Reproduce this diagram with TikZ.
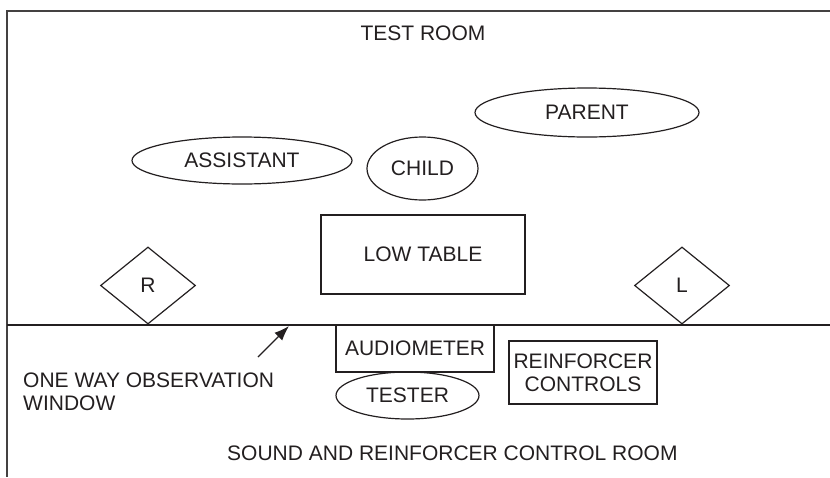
\documentclass[tikz,border=0pt]{standalone}
\usepackage{fontspec}
\setmainfont{Liberation Sans}
\usetikzlibrary{shapes.geometric,arrows.meta}
\definecolor{ink}{HTML}{231F20}
\begin{document}
\begin{tikzpicture}[x=1pt,y=-1pt,
  every node/.style={text=ink,font=\fontsize{21}{23}\selectfont},
  wall/.style={draw=ink!85,line width=2pt},
  divider/.style={draw=ink,line width=1.5pt},
  outline/.style={draw=ink,line width=1.2pt,inner sep=0pt},
  oval/.style={outline,ellipse},
  boxed/.style={outline,rectangle},
  speaker/.style={outline,diamond},
  label/.style={inner sep=0pt}]
\useasboundingbox (0,0) rectangle (830,477);

% room walls
\coordinate (nw) at (7,11);
\coordinate (ne) at (830,11);
\coordinate (sw) at (7,477);
\coordinate (dl) at (7,325);
\coordinate (dr) at (830,325);
\draw[wall] (ne) -- (nw) -- (sw);
\draw[divider] (dl) -- (dr);

% test room
\node[label] (testroom) at (423,33.5) {TEST ROOM};
\node[oval,minimum width=224,minimum height=49] (parent) at (587,112.5) {PARENT};
\node[oval,minimum width=220,minimum height=47] (assistant) at (242,160.5) {ASSISTANT};
\node[oval,minimum width=111,minimum height=63] (child) at (422.5,168.5) {CHILD};
\node[boxed,minimum width=204,minimum height=79] (table) at (423,254.5) {LOW TABLE};
\node[speaker,minimum width=95,minimum height=77] (spkR) at (148,285.5) {R};
\node[speaker,minimum width=95,minimum height=77] (spkL) at (682,285.5) {L};

% control room
\node[boxed,minimum width=158,minimum height=47] (audiometer) at (415,348.5) {AUDIOMETER};
\node[oval,minimum width=143,minimum height=47] (tester) at (407.5,395.5) {TESTER};
\node[boxed,minimum width=148,minimum height=63,align=center] (controls) at (583,372.5) {REINFORCER\\CONTROLS};
\node[label,anchor=west,align=left] (window) at (23,392) {ONE WAY OBSERVATION\\WINDOW};
\node[label,anchor=west] (controlroom) at (227,453) {SOUND AND REINFORCER CONTROL ROOM};

% observation window pointer
\coordinate (wintail) at (258,357);
\coordinate (winpoint) at (289,326);
\draw[ink,line width=1.3pt,-{Latex[length=15pt,width=11pt]}] (wintail) -- (winpoint);
\end{tikzpicture}
\end{document}
